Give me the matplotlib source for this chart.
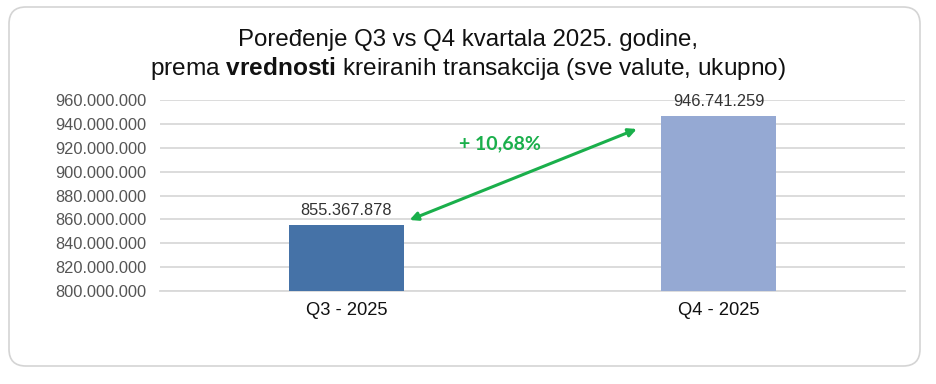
import matplotlib
matplotlib.use('Agg')
import matplotlib.pyplot as plt
from matplotlib.patches import FancyBboxPatch
from matplotlib.ticker import FuncFormatter

# Data
categories = ['Q3 - 2025', 'Q4 - 2025']
values = [855367878, 946741259]
bar_colors = ['#4572A7', '#95A9D3']
change_label = '+ 10,68%'

plt.rcParams['font.family'] = ['Liberation Sans', 'DejaVu Sans']
plt.rcParams['mathtext.fontset'] = 'custom'
plt.rcParams['mathtext.rm'] = 'Liberation Sans'
plt.rcParams['mathtext.bf'] = 'Liberation Sans:bold'


def dots(v, pos):
    return f'{int(v):,}'.replace(',', '.')


fig = plt.figure(figsize=(9.36, 3.84), dpi=100)

# rounded frame around the whole chart
frame = FancyBboxPatch((9 / 936, 18 / 384), 911 / 936, 359 / 384,
                       boxstyle='round,pad=0,rounding_size=0.018',
                       transform=fig.transFigure, facecolor='white',
                       edgecolor='#d4d4d4', linewidth=1.2,
                       mutation_aspect=936 / 384, zorder=-5)
fig.patches.append(frame)

ax = fig.add_axes([160 / 936, 93 / 384, 745 / 936, 191 / 384])
x = list(range(len(categories)))
ax.bar(x, values, width=0.31, color=bar_colors, zorder=3)
ax.set_xlim(-0.5, 1.5)
ax.set_ylim(800000000, 960000000)
ax.set_yticks(range(800000000, 960000001, 20000000))
ax.yaxis.set_major_formatter(FuncFormatter(dots))
ax.set_xticks(x)
ax.set_xticklabels(categories, fontsize=13.2, color='#111111')
ax.tick_params(axis='y', labelsize=11.8, colors='#555555', length=0, pad=10)
ax.tick_params(axis='x', length=0, pad=8)
ax.grid(axis='y', color='#d9d9d9', linewidth=1.3, zorder=0)
for s in ['top', 'right', 'left']:
    ax.spines[s].set_visible(False)
ax.spines['bottom'].set_color('#d9d9d9')
ax.spines['bottom'].set_linewidth(1.3)
ax.set_facecolor('none')

for xi, v in zip(x, values):
    ax.text(xi, v + 6000000, dots(v, None), ha='center', va='bottom',
            fontsize=11.8, color='#333333', zorder=4)

# growth arrow
ax.annotate('', xy=(0.78, 935700000), xytext=(0.17, 859500000),
            arrowprops=dict(arrowstyle='<|-|>', color='#1AAF4B', lw=2.2,
                            mutation_scale=12, shrinkA=0, shrinkB=0))
ax.text(0.413, 923000000, change_label, ha='center', va='center',
        fontsize=14, fontweight='bold', color='#1AAF4B',
        family=['Lato', 'DejaVu Sans'])

fig.text(0.5, 344 / 384, 'Poređenje Q3 vs Q4 kvartala 2025. godine,',
         ha='center', va='center', fontsize=17.3, color='#111111')
fig.text(0.5, 315 / 384,
         r'prema $\mathbf{vrednosti}$ kreiranih transakcija (sve valute, ukupno)',
         ha='center', va='center', fontsize=17.6, color='#111111')

fig.savefig('out.png', dpi=100)
